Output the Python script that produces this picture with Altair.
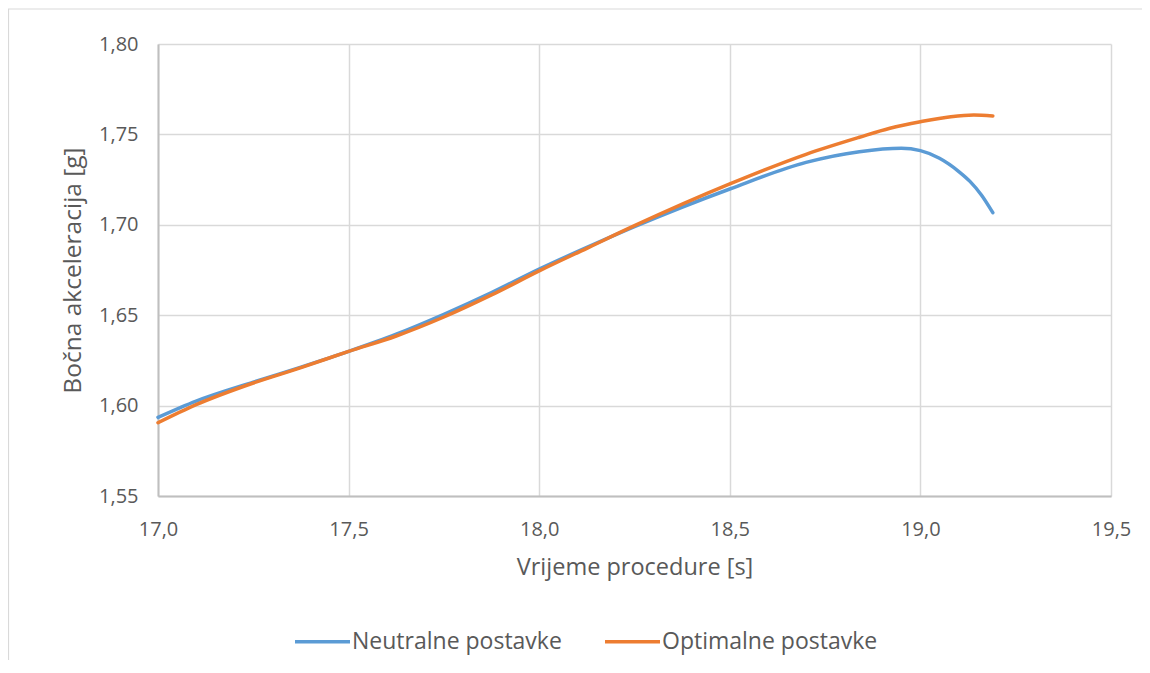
import altair as alt
import pandas as pd

# ---- data ----
t_neutral = [17.0, 17.1, 17.25, 17.375, 17.5, 17.625, 17.75, 17.875, 18.0, 18.125, 18.25,
             18.5, 18.7, 18.84, 18.95, 19.0, 19.05, 19.10, 19.13, 19.16, 19.19]
v_neutral = [1.5935, 1.6025, 1.6130, 1.6213, 1.6300, 1.6395, 1.6505, 1.6625, 1.6755, 1.6875, 1.6990,
             1.7198, 1.7345, 1.7404, 1.7423, 1.7410, 1.7368, 1.7296, 1.7240, 1.7165, 1.7067]

t_optimal = [17.0, 17.1, 17.25, 17.375, 17.5, 17.625, 17.75, 17.875, 18.0, 18.125, 18.25,
             18.5, 18.7, 18.84, 18.92, 19.0, 19.08, 19.14, 19.19]
v_optimal = [1.5905, 1.6005, 1.6125, 1.6210, 1.6300, 1.6385, 1.6490, 1.6612, 1.6745, 1.6870, 1.6995,
             1.7226, 1.7390, 1.7484, 1.7534, 1.7570, 1.7598, 1.7607, 1.7602]

series_names = ["Neutralne postavke", "Optimalne postavke"]
series_colors = ["#5B9BD5", "#ED7D31"]
x_ticks = [17.0, 17.5, 18.0, 18.5, 19.0, 19.5]
y_ticks = [1.55, 1.60, 1.65, 1.70, 1.75, 1.80]

df = pd.concat([
    pd.DataFrame({"t": t_neutral, "v": v_neutral, "s": series_names[0], "o": 0}),
    pd.DataFrame({"t": t_optimal, "v": v_optimal, "s": series_names[1], "o": 1}),
])

FONT = "Open Sans"
TXT = "#595959"

W, H = 953, 452
PAD_L, PAD_T = 150, 36
PAD_R = 1134 - PAD_L - W
PAD_B = 652 - PAD_T - H

lines = alt.Chart(df).mark_line(strokeWidth=3.5, interpolate="monotone", strokeCap="round").encode(
    x=alt.X("t:Q", scale=alt.Scale(domain=[17.0, 19.5], nice=False, zero=False),
            axis=alt.Axis(values=x_ticks, title="Vrijeme procedure [s]",
                          labelExpr="replace(format(datum.value, '.1f'), '.', ',')",
                          labelFlush=False,
                          labelPadding=23, titlePadding=16, titleFontSize=23.5)),
    y=alt.Y("v:Q", scale=alt.Scale(domain=[1.55, 1.80], nice=False, zero=False),
            axis=alt.Axis(values=y_ticks, title="Bočna akceleracija [g]",
                          labelExpr="replace(format(datum.value, '.2f'), '.', ',')",
                          labelFlush=False,
                          labelPadding=20, titlePadding=13, titleFontSize=24.5)),
    color=alt.Color("s:N", scale=alt.Scale(domain=series_names, range=series_colors),
                    legend=alt.Legend(title=None, orient="none", direction="horizontal",
                                      legendX=135, legendY=568,
                                      symbolType="stroke", symbolSize=3025,
                                      symbolStrokeWidth=3.5, labelOffset=0,
                                      columnPadding=36, labelFontSize=23, labelLimit=0,
                                      labelColor=TXT, labelFont=FONT)),
    order=alt.Order("o:Q"),
    detail="s:N",
)

frame_df = pd.DataFrame({"k": [0]})
frame_top = alt.Chart(frame_df).mark_rule(stroke="#d9d9d9", strokeWidth=1.2).encode(
    x=alt.value(-PAD_L), x2=alt.value(W + PAD_R), y=alt.value(-PAD_T + 1),
)
frame_left = alt.Chart(frame_df).mark_rule(stroke="#d9d9d9", strokeWidth=1.2).encode(
    x=alt.value(-PAD_L + 0.5), y=alt.value(-PAD_T + 1), y2=alt.value(H + PAD_B),
)

chart = alt.layer(frame_top, frame_left, lines).properties(
    width=W, height=H,
    autosize=alt.AutoSizeParams(type="none"),
    padding={"left": PAD_L, "top": PAD_T, "right": PAD_R, "bottom": PAD_B},
).configure_view(stroke=None).configure_axis(
    grid=True, gridColor="#d9d9d9", gridWidth=1.5,
    domainColor="#bfbfbf", domainWidth=2,
    ticks=False, labelFont=FONT, labelFontSize=20, labelColor=TXT,
    titleFont=FONT, titleColor=TXT, titleFontWeight="normal",
)

chart.save("out.html", embed_options={"renderer": "svg", "actions": False})
